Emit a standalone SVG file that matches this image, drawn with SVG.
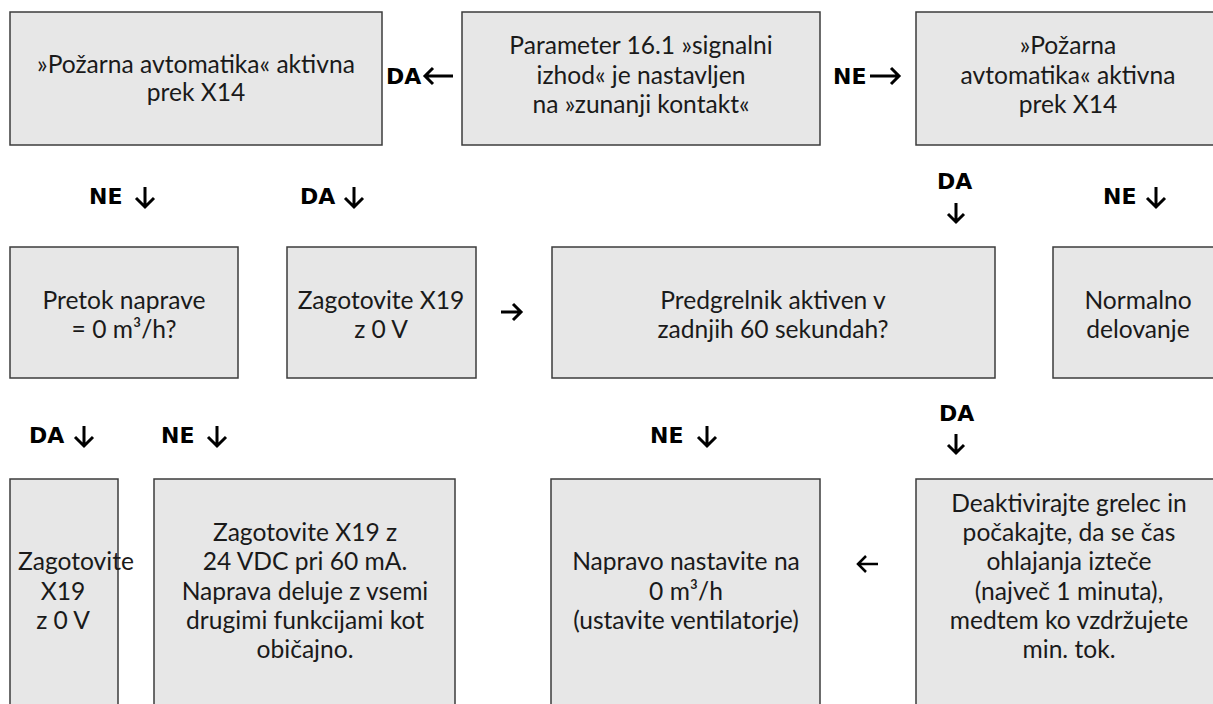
<svg xmlns="http://www.w3.org/2000/svg" width="1213" height="704" viewBox="0 0 1213 704">
<style>
.box{fill:#e7e7e7;stroke:#3c3c3c;stroke-width:1.5}
.t{font-family:Lato,"Open Sans",sans-serif;font-size:24.6px;fill:#1a1a1a;text-anchor:middle}
.l{font-family:"DejaVu Sans",sans-serif;font-weight:bold;font-size:22px;fill:#000}
.ar{fill:none;stroke:#000;stroke-width:3;stroke-linecap:butt;stroke-linejoin:miter}
</style>
<rect width="1213" height="704" fill="#fff"/>
<g id="n1"><rect class="box" x="10" y="12" width="372" height="133"/>
<text class="t" x="196" y="73">»Požarna avtomatika« aktivna</text><text class="t" x="196" y="101">prek X14</text></g>
<g id="n2"><rect class="box" x="462" y="12" width="358" height="133"/>
<text class="t" x="641" y="54">Parameter 16.1 »signalni</text><text class="t" x="641" y="84">izhod« je nastavljen</text><text class="t" x="641" y="113">na »zunanji kontakt«</text></g>
<g id="n3"><rect class="box" x="916" y="12" width="305" height="133"/>
<text class="t" x="1068" y="54">»Požarna</text><text class="t" x="1068" y="84">avtomatika« aktivna</text><text class="t" x="1068" y="113">prek X14</text></g>
<g id="n4"><rect class="box" x="10" y="247" width="228" height="131"/>
<text class="t" x="124" y="309">Pretok naprave</text><text class="t" x="124" y="338">= 0 m³/h?</text></g>
<g id="n5"><rect class="box" x="287" y="247" width="189" height="131"/>
<text class="t" x="381" y="309">Zagotovite X19</text><text class="t" x="381" y="338">z 0 V</text></g>
<g id="n6"><rect class="box" x="552" y="247" width="443" height="131"/>
<text class="t" x="773" y="309">Predgrelnik aktiven v</text><text class="t" x="773" y="338">zadnjih 60 sekundah?</text></g>
<g id="n7"><rect class="box" x="1053" y="247" width="170" height="131"/>
<text class="t" x="1138" y="309">Normalno</text><text class="t" x="1138" y="338">delovanje</text></g>
<g id="n8"><rect class="box" x="10" y="479" width="108" height="240"/>
<text class="t" x="18" y="570" style="text-anchor:start">Zagotovite</text><text class="t" x="63" y="600">X19</text><text class="t" x="63" y="629">z 0 V</text></g>
<g id="n9"><rect class="box" x="154" y="479" width="301" height="240"/>
<text class="t" x="305" y="541">Zagotovite X19 z</text><text class="t" x="305" y="570">24 VDC pri 60 mA.</text><text class="t" x="305" y="600">Naprava deluje z vsemi</text><text class="t" x="305" y="629">drugimi funkcijami kot</text><text class="t" x="305" y="658">običajno.</text></g>
<g id="n10"><rect class="box" x="551" y="479" width="269" height="240"/>
<text class="t" x="686" y="570">Napravo nastavite na</text><text class="t" x="686" y="600">0 m³/h</text><text class="t" x="686" y="629">(ustavite ventilatorje)</text></g>
<g id="n11"><rect class="box" x="916" y="479" width="305" height="240"/>
<text class="t" x="1069" y="512">Deaktivirajte grelec in</text><text class="t" x="1069" y="541">počakajte, da se čas</text><text class="t" x="1069" y="570">ohlajanja izteče</text><text class="t" x="1069" y="600">(največ 1 minuta),</text><text class="t" x="1069" y="629">medtem ko vzdržujete</text><text class="t" x="1069" y="658">min. tok.</text></g>
<g id="connectors">
<text class="l" x="386" y="84">DA</text><path class="ar" d="M453 76H425M433 68L425 76L433 84"/>
<text class="l" x="833" y="84">NE</text><path class="ar" d="M870 76H899M891 68L899 76L891 84"/>
<text class="l" x="89" y="204">NE</text><path class="ar" d="M145 187V207M136 198L145 207L154 198"/>
<text class="l" x="300" y="204">DA</text><path class="ar" d="M354 187V207M345 198L354 207L363 198"/>
<text class="l" x="937" y="189">DA</text><path class="ar" d="M956 203V222M948 214L956 222L964 214"/>
<text class="l" x="1103" y="204">NE</text><path class="ar" d="M1156 187V207M1147 198L1156 207L1165 198"/>
<path class="ar" d="M501 312H521M513 304L521 312L513 320"/>
<text class="l" x="29" y="443">DA</text><path class="ar" d="M84 426V446M75 437L84 446L93 437"/>
<text class="l" x="161" y="443">NE</text><path class="ar" d="M217 426V446M208 437L217 446L226 437"/>
<text class="l" x="650" y="443">NE</text><path class="ar" d="M707 426V446M698 437L707 446L716 437"/>
<text class="l" x="939" y="421">DA</text><path class="ar" d="M956 434V453M948 445L956 453L964 445"/>
<path class="ar" style="stroke-width:2.5" d="M878 564H858M866 556L858 564L866 572"/>
</g>
</svg>
